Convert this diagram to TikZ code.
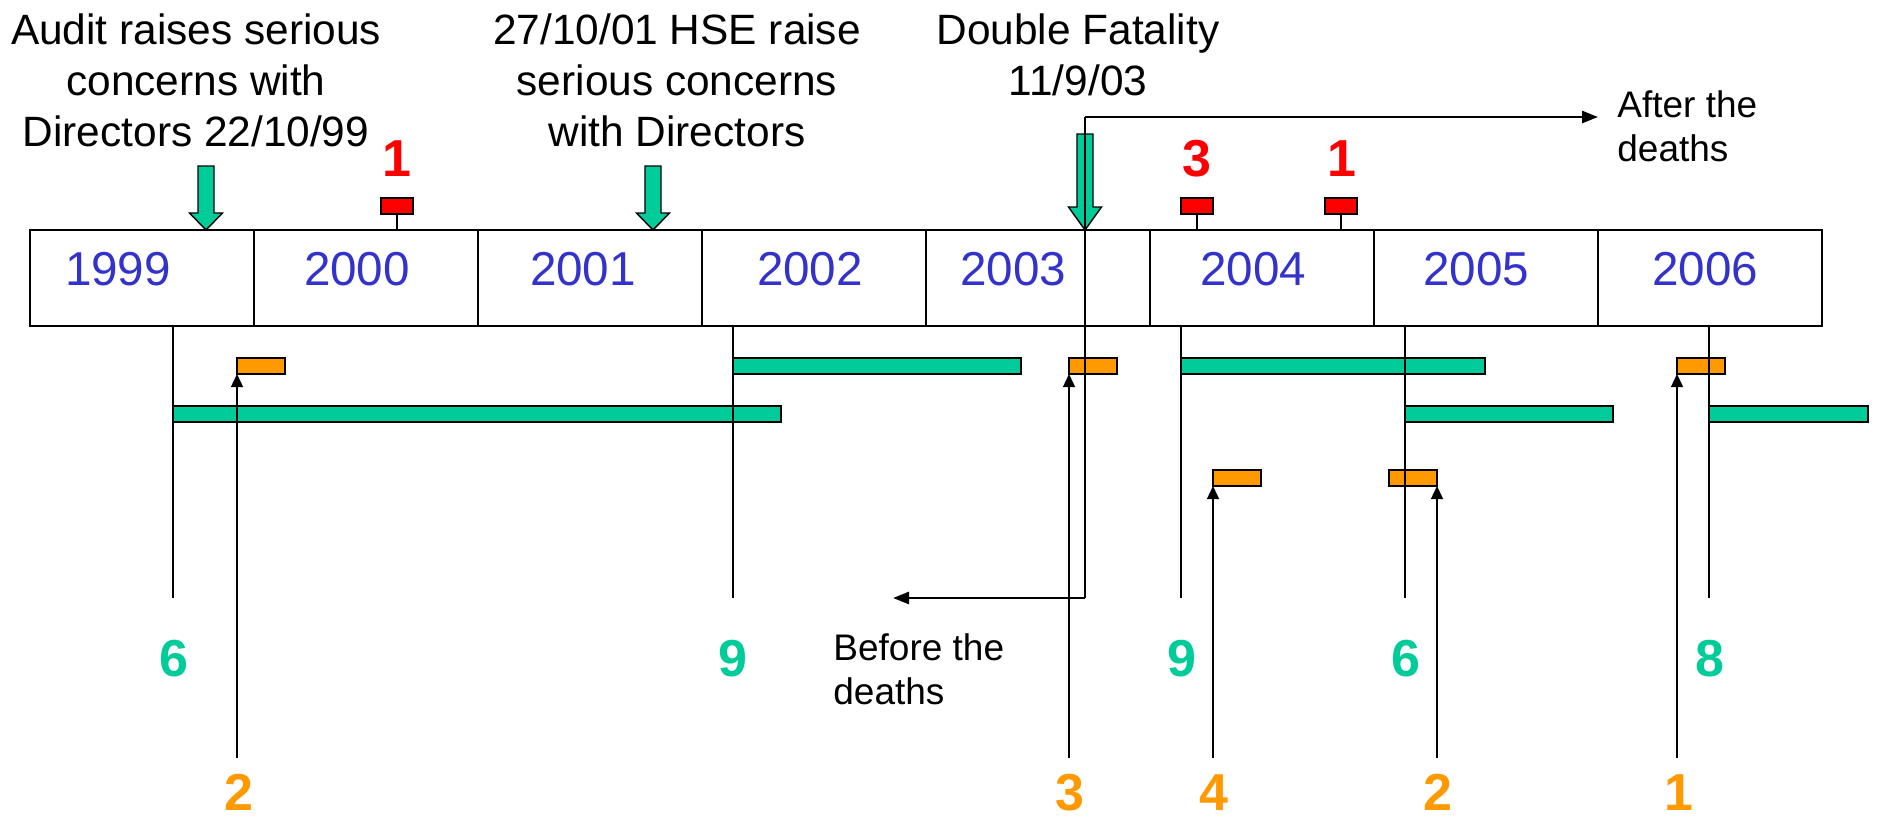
\documentclass[tikz,border=0pt]{standalone}
\usepackage{fontspec}
\setmainfont{Liberation Sans}
\usetikzlibrary{arrows.meta}
\definecolor{tgreen}{HTML}{00CC99}
\definecolor{torange}{HTML}{FF9900}
\definecolor{tred}{HTML}{FF0000}
\definecolor{tblue}{HTML}{3333CC}
\begin{document}
\begin{tikzpicture}[x=0.5pt,y=-0.5pt,
  cell/.style={draw,line width=1pt,minimum width=112pt,minimum height=48pt,inner sep=0,outer sep=0},
  year/.style={text=tblue,font=\fontsize{23.8}{27}\selectfont,anchor=base,inner sep=0},
  note/.style={font=\fontsize{21.2}{25.5}\selectfont,align=center,anchor=north,inner sep=0},
  side/.style={font=\fontsize{18.5}{22}\selectfont,align=left,anchor=north west,inner sep=0},
  num/.style={font=\bfseries\fontsize{26}{30}\selectfont,anchor=base,inner sep=0},
  gbar/.style={draw,line width=1pt,fill=tgreen,minimum height=8pt,inner sep=0,outer sep=0,anchor=west},
  obar/.style={draw,line width=1pt,fill=torange,minimum width=24pt,minimum height=8pt,inner sep=0,outer sep=0,anchor=west},
  rbar/.style={draw,line width=1pt,fill=tred,minimum width=16pt,minimum height=8pt,inner sep=0,outer sep=0},
  thinline/.style={line width=0.7pt},
  uparr/.style={line width=0.7pt,-{Triangle[length=6.5pt,width=6pt]}},
  fatarr/.style={line width=1.3pt,-{Triangle[length=8pt,width=6pt]}},
  barrow/.style={draw,line width=0.7pt,fill=tgreen,line join=miter}
]
\useasboundingbox (0,0) rectangle (1878,820);

% timeline cells
\node[cell] (c1999) at (142,278) {};
\node[cell] (c2000) at (366,278) {};
\node[cell] (c2001) at (590,278) {};
\node[cell] (c2002) at (814,278) {};
\node[cell] (c2003) at (1038,278) {};
\node[cell] (c2004) at (1262,278) {};
\node[cell] (c2005) at (1486,278) {};
\node[cell] (c2006) at (1710,278) {};
\draw[line width=1.2pt] (c1999.north west) rectangle (c2006.south east);

% year labels
\node[year] (y1999) at (118,285) {1999};
\node[year] (y2000) at (357,285) {2000};
\node[year] (y2001) at (583,285) {2001};
\node[year] (y2002) at (810,285) {2002};
\node[year] (y2003) at (1013,285) {2003};
\node[year] (y2004) at (1253,285) {2004};
\node[year] (y2005) at (1476,285) {2005};
\node[year] (y2006) at (1705,285) {2006};

% top notes
\node[note] (audit) at (196,13) {Audit raises serious\\concerns with\\Directors 22/10/99};
\node[note] (hse) at (677,13) {27/10/01 HSE raise\\serious concerns\\with Directors};
\node[note] (fatal) at (1078,13) {Double Fatality\\11/9/03};
\node[side] (after) at (1617,90) {After the\\deaths};
\node[side] (before) at (833,633) {Before the\\deaths};

% green bars
\node[gbar,minimum width=304pt] (g1) at (173,414) {};
\node[gbar,minimum width=144pt] (g2) at (733,366) {};
\node[gbar,minimum width=152pt] (g3) at (1181,366) {};
\node[gbar,minimum width=104pt] (g4) at (1405,414) {};
\node[gbar,minimum width=79.5pt] (g5) at (1709,414) {};

% orange bars
\node[obar] (o1) at (237,366) {};
\node[obar] (o2) at (1069,366) {};
\node[obar] (o3) at (1213,478) {};
\node[obar] (o4) at (1389,478) {};
\node[obar] (o5) at (1677,366) {};

% red markers
\node[rbar] (r1) at (397,206) {};
\node[rbar] (r2) at (1197,206) {};
\node[rbar] (r3) at (1341,206) {};
\draw[thinline] (r1.south) -- (r1.south |- c2000.north);
\draw[thinline] (r2.south) -- (r2.south |- c2004.north);
\draw[thinline] (r3.south) -- (r3.south |- c2004.north);

% numbers
\node[num,text=tred] (n1) at (397,176) {1};
\node[num,text=tred] (n2) at (1197,176) {3};
\node[num,text=tred] (n3) at (1342,176) {1};

\node[num,text=tgreen] (gn1) at (174,676) {6};
\node[num,text=tgreen] (gn2) at (733,676) {9};
\node[num,text=tgreen] (gn3) at (1182,676) {9};
\node[num,text=tgreen] (gn4) at (1406,676) {6};
\node[num,text=tgreen] (gn5) at (1710,676) {8};

\node[num,text=torange] (on1) at (239,810) {2};
\node[num,text=torange] (on2) at (1070,810) {3};
\node[num,text=torange] (on3) at (1214,810) {4};
\node[num,text=torange] (on4) at (1438,810) {2};
\node[num,text=torange] (on5) at (1679,810) {1};

% green lines from timeline
\coordinate (glow) at (0,598);
\draw[thinline] (g1.west |- c1999.south) -- (g1.west |- glow);
\draw[thinline] (g2.west |- c2002.south) -- (g2.west |- glow);
\draw[thinline] (g3.west |- c2004.south) -- (g3.west |- glow);
\draw[thinline] (g4.west |- c2005.south) -- (g4.west |- glow);
\draw[thinline] (g5.west |- c2006.south) -- (g5.west |- glow);

% orange arrows
\coordinate (olow) at (0,758);
\draw[uparr] (o1.south west |- olow) -- (o1.south west);
\draw[uparr] (o2.south west |- olow) -- (o2.south west);
\draw[uparr] (o3.south west |- olow) -- (o3.south west);
\draw[uparr] (o4.south east |- olow) -- (o4.south east);
\draw[uparr] (o5.south west |- olow) -- (o5.south west);

% green block arrows
\draw[barrow] (198,166) -- (214,166) -- (214,213) -- (222.5,213) -- (206,230) -- (189.5,213) -- (198,213) -- cycle;
\draw[barrow] (645,166) -- (661,166) -- (661,213) -- (669.5,213) -- (653,230) -- (636.5,213) -- (645,213) -- cycle;
\draw[barrow] (1077,134) -- (1093,134) -- (1093,207) -- (1101.5,207) -- (1085,230) -- (1068.5,207) -- (1077,207) -- cycle;

% fatality divider
\coordinate (fatTop) at (1085,117);
\coordinate (fatBot) at (1085,598);
\coordinate (afterTip) at (1598,117);
\coordinate (beforeTip) at (893,598);
\draw[thinline] (fatTop) -- (fatBot);
\draw[fatarr] (fatTop) -- (afterTip);
\draw[fatarr] (fatBot) -- (beforeTip);
\end{tikzpicture}
\end{document}
